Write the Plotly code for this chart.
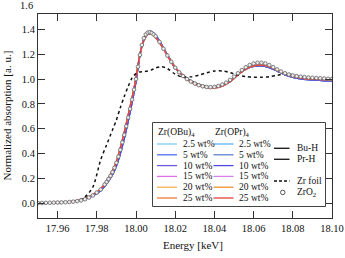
import plotly.graph_objects as go

# ---------------- data ----------------
energy = [17.950, 17.955, 17.960, 17.965, 17.970, 17.974, 17.978, 17.982, 17.985, 17.988,
          17.990, 17.992, 17.994, 17.996, 17.998, 18.000, 18.002, 18.004, 18.006, 18.008,
          18.010, 18.013, 18.016, 18.020, 18.024, 18.028, 18.032, 18.036, 18.040, 18.044,
          18.048, 18.052, 18.056, 18.060, 18.064, 18.068, 18.072, 18.076, 18.080, 18.085,
          18.090, 18.095, 18.100]

# Bu-H / Pr-H reference samples (black)
xanes_h = [0.000, 0.002, 0.004, 0.008, 0.018, 0.035, 0.065, 0.11, 0.17, 0.25,
           0.32, 0.43, 0.55, 0.69, 0.83, 1.00, 1.20, 1.32, 1.37, 1.372,
           1.345, 1.275, 1.195, 1.095, 1.03, 0.985, 0.955, 0.94, 0.938, 0.952,
           0.985, 1.04, 1.085, 1.108, 1.112, 1.098, 1.07, 1.04, 1.02, 1.005,
           0.998, 0.994, 0.99]

# low loadings (2.5, 5, 10 wt%)
xanes_low = [0.000, 0.002, 0.004, 0.008, 0.017, 0.032, 0.06, 0.10, 0.155, 0.23,
             0.30, 0.40, 0.52, 0.66, 0.81, 0.98, 1.19, 1.32, 1.378, 1.383,
             1.355, 1.28, 1.195, 1.09, 1.025, 0.98, 0.95, 0.937, 0.937, 0.95,
             0.982, 1.035, 1.08, 1.103, 1.107, 1.093, 1.065, 1.035, 1.015, 1.0,
             0.993, 0.988, 0.985]

# high loadings (15, 20, 25 wt%)
xanes_high = [0.000, 0.002, 0.005, 0.009, 0.019, 0.037, 0.068, 0.115, 0.18, 0.26,
              0.335, 0.445, 0.57, 0.71, 0.85, 1.01, 1.20, 1.31, 1.36, 1.362,
              1.335, 1.27, 1.19, 1.09, 1.025, 0.978, 0.947, 0.932, 0.93, 0.944,
              0.978, 1.033, 1.08, 1.106, 1.113, 1.10, 1.072, 1.042, 1.022, 1.007,
              1.0, 0.996, 0.993]

zr_foil = [0.0, 0.002, 0.005, 0.01, 0.02, 0.05, 0.13, 0.35, 0.47, 0.59,
           0.67, 0.77, 0.86, 0.94, 1.01, 1.045, 1.058, 1.06, 1.065, 1.075,
           1.09, 1.10, 1.085, 1.04, 1.015, 1.018, 1.032, 1.05, 1.065, 1.066,
           1.052, 1.032, 1.02, 1.015, 1.015, 1.02, 1.03, 1.042, 1.035, 1.02,
           1.008, 1.0, 0.995]

zro2_energy = [17.950, 17.952, 17.954, 17.956, 17.958, 17.960, 17.962, 17.964, 17.966, 17.968,
               17.970, 17.972, 17.974, 17.976, 17.978, 17.980, 17.982, 17.984, 17.985, 17.986,
               17.987, 17.988, 17.989, 17.990, 17.991, 17.992, 17.993, 17.994, 17.995, 17.996,
               17.997, 17.998, 17.999, 18.000, 18.001, 18.002, 18.003, 18.004, 18.005, 18.006,
               18.007, 18.008, 18.009, 18.010, 18.012, 18.014, 18.016, 18.018, 18.020, 18.022,
               18.024, 18.026, 18.028, 18.030, 18.032, 18.034, 18.036, 18.038, 18.040, 18.042,
               18.044, 18.046, 18.048, 18.050, 18.052, 18.054, 18.056, 18.058, 18.060, 18.062,
               18.064, 18.066, 18.068, 18.070, 18.072, 18.074, 18.076, 18.078, 18.080, 18.082,
               18.084, 18.086, 18.088, 18.090, 18.092, 18.094, 18.096, 18.098, 18.100]
zro2 = [0.0, 0.001, 0.002, 0.003, 0.004, 0.005, 0.006, 0.007, 0.009, 0.012,
        0.016, 0.022, 0.031, 0.045, 0.062, 0.085, 0.11, 0.15, 0.17, 0.195,
        0.22, 0.25, 0.285, 0.325, 0.375, 0.43, 0.49, 0.55, 0.62, 0.69,
        0.76, 0.835, 0.915, 1.0, 1.10, 1.195, 1.275, 1.33, 1.36, 1.375,
        1.378, 1.372, 1.36, 1.345, 1.30, 1.245, 1.19, 1.14, 1.092, 1.055,
        1.025, 1.0, 0.98, 0.964, 0.951, 0.942, 0.937, 0.935, 0.937, 0.944,
        0.956, 0.972, 0.994, 1.02, 1.047, 1.073, 1.096, 1.114, 1.126, 1.132,
        1.132, 1.126, 1.113, 1.096, 1.078, 1.061, 1.047, 1.037, 1.029, 1.023,
        1.019, 1.016, 1.013, 1.011, 1.009, 1.007, 1.005, 1.003, 1.001]

wt_labels = ["2.5 wt%", "5 wt%", "10 wt%", "15 wt%", "20 wt%", "25 wt%"]
obu_colors = ["#7ec8f0", "#4f6ff0", "#7058e0", "#e070e8", "#f7b050", "#f07838"]
opr_colors = ["#60b0f0", "#6080d0", "#5048e0", "#d880e8", "#f09030", "#e04040"]
sample_curves = [xanes_low, xanes_low, xanes_low, xanes_high, xanes_high, xanes_high]

x_ticks = [17.96, 17.98, 18.00, 18.02, 18.04, 18.06, 18.08, 18.10]
y_ticks = [0.0, 0.2, 0.4, 0.6, 0.8, 1.0, 1.2, 1.4]

FONT = "Liberation Serif, Times New Roman, serif"
ML, MR, MT, MB = 38, 13, 14, 40
W, H = 345, 258
PW, PH = W - ML - MR, H - MT - MB


def px(x):
    return (x - ML) / PW


def py(y):
    return (MT + PH - y) / PH


fig = go.Figure()

spline = dict(shape="spline", smoothing=0.8)

for name in ["Bu-H", "Pr-H"]:
    fig.add_trace(go.Scatter(x=energy, y=xanes_h, mode="lines", name=name,
                             line=dict(color="#222222", width=1.4, **spline), showlegend=False))

for i, lab in enumerate(wt_labels):
    fig.add_trace(go.Scatter(x=energy, y=sample_curves[i], mode="lines",
                             name="Zr(OBu)4 " + lab,
                             line=dict(color=obu_colors[i], width=1.3, **spline), showlegend=False))
for i, lab in enumerate(wt_labels):
    fig.add_trace(go.Scatter(x=energy, y=sample_curves[i], mode="lines",
                             name="Zr(OPr)4 " + lab,
                             line=dict(color=opr_colors[i], width=1.3, **spline), showlegend=False))

fig.add_trace(go.Scatter(x=energy, y=zr_foil, mode="lines", name="Zr foil",
                         line=dict(color="#111111", width=1.5, dash="3px,3px", **spline),
                         showlegend=False))

fig.add_trace(go.Scatter(x=zro2_energy, y=zro2, mode="markers", name="ZrO2",
                         marker=dict(symbol="circle", size=3.6, color="#eeeeee",
                                     line=dict(color="#707070", width=0.9)),
                         showlegend=False))

# ---------------- legend (drawn manually) ----------------
shapes = []
annotations = []
shapes.append(dict(type="rect", xref="paper", yref="paper", x0=px(152.5), x1=px(325.5),
                   y0=py(206.5), y1=py(122.5), line=dict(color="#444444", width=1),
                   fillcolor="white", layer="above"))
LF = 9.5
annotations.append(dict(text="Zr(OBu)<sub>4</sub>", x=px(156), y=py(132), xref="paper", yref="paper",
                        xanchor="left", yanchor="middle", showarrow=False,
                        font=dict(family=FONT, size=LF, color="#111")))
annotations.append(dict(text="Zr(OPr)<sub>4</sub>", x=px(212.5), y=py(132), xref="paper", yref="paper",
                        xanchor="left", yanchor="middle", showarrow=False,
                        font=dict(family=FONT, size=LF, color="#111")))
rows = [144, 154.8, 165.6, 176.4, 187.2, 198]
for i, lab in enumerate(wt_labels):
    for (lx0, lx1, tx, cols) in [(157, 177, 180.5, obu_colors), (213.5, 233.5, 237, opr_colors)]:
        shapes.append(dict(type="line", xref="paper", yref="paper", x0=px(lx0), x1=px(lx1),
                           y0=py(rows[i]), y1=py(rows[i]), line=dict(color=cols[i], width=1.3),
                           layer="above"))
        annotations.append(dict(text=lab, x=px(tx), y=py(rows[i]), xref="paper", yref="paper",
                                xanchor="left", yanchor="middle", showarrow=False,
                                font=dict(family=FONT, size=LF, color="#111")))

for lab, yy in [("Bu-H", 148.3), ("Pr-H", 159.3)]:
    shapes.append(dict(type="line", xref="paper", yref="paper", x0=px(274), x1=px(289.5),
                       y0=py(yy), y1=py(yy), line=dict(color="#222", width=1.4), layer="above"))
    annotations.append(dict(text=lab, x=px(295), y=py(yy), xref="paper", yref="paper",
                            xanchor="left", yanchor="middle", showarrow=False,
                            font=dict(family=FONT, size=LF, color="#111")))
shapes.append(dict(type="line", xref="paper", yref="paper", x0=px(274), x1=px(289.5),
                   y0=py(181), y1=py(181), line=dict(color="#111", width=1.4, dash="3px,2px"),
                   layer="above"))
annotations.append(dict(text="Zr foil", x=px(295), y=py(181), xref="paper", yref="paper",
                        xanchor="left", yanchor="middle", showarrow=False,
                        font=dict(family=FONT, size=LF, color="#111")))
shapes.append(dict(type="circle", xref="paper", yref="paper", x0=px(280.5), x1=px(285),
                   y0=py(194.7), y1=py(190.2), line=dict(color="#555", width=1),
                   fillcolor="white", layer="above"))
annotations.append(dict(text="ZrO<sub>2</sub>", x=px(295), y=py(192.5), xref="paper", yref="paper",
                        xanchor="left", yanchor="middle", showarrow=False,
                        font=dict(family=FONT, size=LF, color="#111")))

# axis titles and the out-of-frame "1.6" label
annotations.append(dict(text="Energy [keV]", x=px(192.5), y=py(245), xref="paper", yref="paper",
                        xanchor="center", yanchor="middle", showarrow=False,
                        font=dict(family=FONT, size=11, color="#111")))
annotations.append(dict(text="Normalized absorption [a. u.]", x=px(6.5), y=py(116), xref="paper",
                        yref="paper", xanchor="center", yanchor="middle", textangle=-90,
                        showarrow=False, font=dict(family=FONT, size=11, color="#111")))
annotations.append(dict(text="1.6", x=px(34.5), y=py(5.5), xref="paper", yref="paper",
                        xanchor="right", yanchor="middle", showarrow=False,
                        font=dict(family=FONT, size=10.5, color="#111")))

axis_common = dict(showline=True, linecolor="#333333", linewidth=1, mirror="ticks",
                   ticks="inside", ticklen=7, tickwidth=1, tickcolor="#333333",
                   showgrid=False, zeroline=False, automargin=False,
                   tickfont=dict(family=FONT, size=10.5, color="#111"))

fig.update_layout(
    width=W, height=H,
    margin=dict(l=ML, r=MR, t=MT, b=MB, autoexpand=False),
    paper_bgcolor="white", plot_bgcolor="white",
    xaxis=dict(range=[17.95, 18.10], tickvals=x_ticks,
               ticktext=["%.2f" % v for v in x_ticks], **axis_common),
    yaxis=dict(range=[-0.12, 1.525], tickvals=y_ticks,
               ticktext=["%.1f" % v for v in y_ticks], **axis_common),
    shapes=shapes, annotations=annotations, showlegend=False,
)

fig.write_html("out.html", config={"displayModeBar": False},
               post_script="document.body.style.margin='0';document.body.style.overflow='hidden';")
